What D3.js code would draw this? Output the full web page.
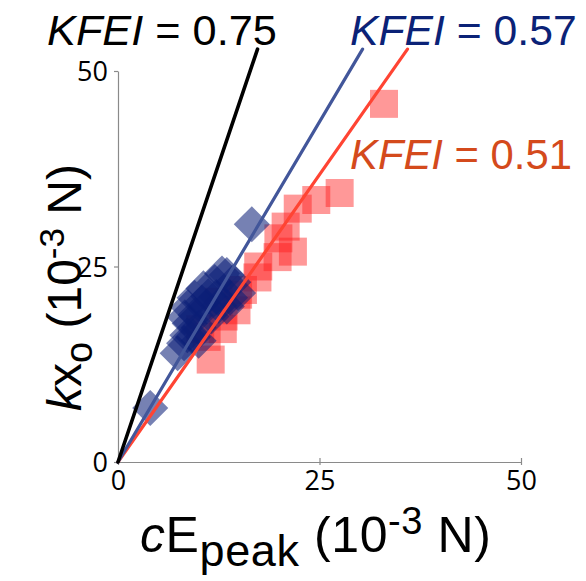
<!DOCTYPE html>
<html>
<head>
<meta charset="utf-8">
<script src="https://cdn.jsdelivr.net/npm/d3@7"></script>
<style>
  html, body { margin: 0; padding: 0; background: #fff; }
  svg { display: block; }
</style>
</head>
<body>
<svg id="chart" width="586" height="581"></svg>
<script>
// Axis ticks (10^-3 N)
const xTicks = [0, 25, 50];
const yTicks = [0, 25, 50];

// Red squares: cE_peak vs kx_o
const redX = [33.0, 27.5, 24.6, 22.3, 20.8, 21.7, 19.9, 19.8, 17.4, 17.3, 14.9, 14.7, 13.1, 11.0, 11.5, 15.5, 12.5, 13.0, 10.2];
const redY = [45.8, 34.4, 33.5, 32.4, 30.1, 26.9, 28.6, 26.2, 25.0, 23.6, 21.4, 19.4, 18.6, 16.0, 13.1, 22.0, 20.5, 17.0, 17.0];

// Blue diamonds: cE_peak vs kx_o
const blueX = [4.0, 16.6, 7.4, 8.2, 8.6, 9.3, 8.9, 8.3, 8.7, 9.6, 10.0, 10.6, 10.4, 11.0, 11.6, 12.2, 12.0, 12.9, 13.5, 13.5, 14.3, 14.9, 13.9, 12.5, 10.0, 9.5, 11.2];
const blueY = [6.9, 30.4, 13.9, 15.2, 16.2, 16.0, 17.7, 18.5, 19.8, 18.8, 17.2, 22.2, 20.4, 19.9, 18.6, 21.1, 23.0, 24.1, 23.9, 19.9, 23.0, 21.6, 21.0, 20.0, 15.5, 21.0, 21.2];

// Reference lines through the origin: label value and slope (kx_o per cE_peak)
const lineNames  = ["0.75", "0.57", "0.51"];
const lineSlopes = [3.05, 1.74, 1.47];
const lineTop = 52.8;

const svg = d3.select("#chart");

const x = d3.scaleLinear().domain([0, 50]).range([118, 521]);
const y = d3.scaleLinear().domain([0, 50]).range([462, 71]);

const tickFont = "'Open Sans', 'Noto Sans', sans-serif";
const labelFont = "'Liberation Sans', Arial, sans-serif";

// axes
const xAxis = svg.append("g")
  .attr("transform", `translate(0,${y(0)})`)
  .call(d3.axisBottom(x).tickValues(xTicks).tickSize(4).tickSizeOuter(0).tickPadding(4));
const yAxis = svg.append("g")
  .attr("transform", `translate(${x(0)},0)`)
  .call(d3.axisLeft(y).tickValues(yTicks).tickSize(4).tickSizeOuter(0).tickPadding(6));

[xAxis, yAxis].forEach(g => {
  g.select(".domain").attr("stroke", "#8a8a8a").attr("stroke-width", 1.2);
  g.selectAll(".tick line").attr("stroke", "#8a8a8a").attr("stroke-width", 1.2);
  g.selectAll(".tick text")
    .attr("fill", "#000")
    .style("font-family", tickFont)
    .style("font-size", "27px");
});
xAxis.selectAll(".tick line").attr("y1", -4).attr("y2", 3);
xAxis.selectAll(".tick text").attr("dy", "0.75em");
yAxis.selectAll(".tick text").attr("dy", "0.36em");

// red squares
svg.append("g")
  .selectAll("path")
  .data(redX.map((v, i) => [v, redY[i]]))
  .join("path")
  .attr("d", d3.symbol(d3.symbolSquare, 28 * 28))
  .attr("transform", d => `translate(${x(d[0])},${y(d[1])})`)
  .attr("fill", "#ff1a1a")
  .attr("fill-opacity", 0.45);

// blue diamonds
svg.append("g")
  .selectAll("path")
  .data(blueX.map((v, i) => [v, blueY[i]]))
  .join("path")
  .attr("d", d3.symbol(d3.symbolSquare, 25.5 * 25.5))
  .attr("transform", d => `translate(${x(d[0])},${y(d[1])}) rotate(45)`)
  .attr("fill", "#0a1f78")
  .attr("fill-opacity", 0.56);

// lines through origin (drawn red, blue, black)
const lineColors = ["#000000", "#42569a", "#ff4433"];
const lineWidths = [3.6, 3.2, 3.2];
[2, 1, 0].forEach(i => {
  svg.append("line")
    .attr("x1", x(0)).attr("y1", y(0))
    .attr("x2", x(lineTop / lineSlopes[i])).attr("y2", y(lineTop))
    .attr("stroke", lineColors[i])
    .attr("stroke-width", lineWidths[i])
    .attr("stroke-linecap", "round");
});

// line labels
const labelColors = ["#000000", "#0b2277", "#d44a1c"];
const labelPos = [[47, 45], [350, 45], [350, 169]];
const labelSizes = [43.3, 42.7, 41.8];
lineNames.forEach((n, i) => {
  const t = svg.append("text")
    .attr("x", labelPos[i][0]).attr("y", labelPos[i][1])
    .attr("fill", labelColors[i])
    .style("font-family", labelFont)
    .style("font-size", labelSizes[i] + "px");
  t.append("tspan").attr("font-style", "italic").text("KFEI");
  t.append("tspan").text(" = " + n);
});

// x-axis title
const xt = svg.append("text")
  .attr("x", 140).attr("y", 552)
  .attr("fill", "#000")
  .style("font-family", labelFont)
  .style("font-size", "50px")
  .style("letter-spacing", "0.6px");
xt.append("tspan").attr("font-style", "italic").text("c");
xt.append("tspan").text("E");
xt.append("tspan").attr("dy", 14).style("font-size", "45px").text("peak");
xt.append("tspan").attr("dy", -14).text(" (10");
xt.append("tspan").attr("dy", -18).style("font-size", "38px").text("-3");
xt.append("tspan").attr("dy", 18).text(" N)");

// y-axis title
const yt = svg.append("text")
  .attr("transform", "translate(81,411) rotate(-90)")
  .attr("fill", "#000")
  .style("font-family", labelFont)
  .style("font-size", "48px");
yt.append("tspan").attr("font-style", "italic").text("k");
yt.append("tspan").text("x");
yt.append("tspan").attr("dy", 11).style("font-size", "38px").text("o");
yt.append("tspan").attr("dy", -11).text(" (10");
yt.append("tspan").attr("dy", -17).style("font-size", "35px").text("-3");
yt.append("tspan").attr("dy", 17).text(" N)");
</script>
</body>
</html>
